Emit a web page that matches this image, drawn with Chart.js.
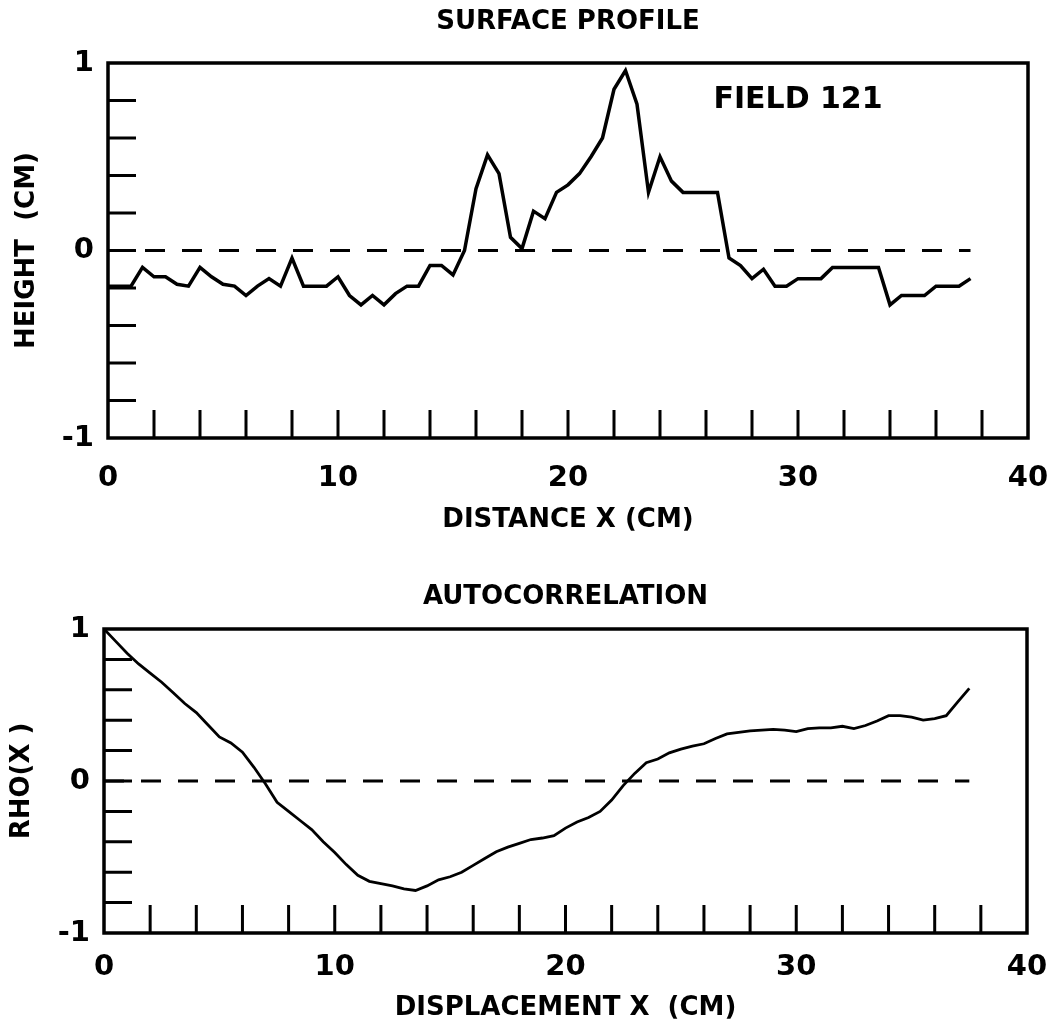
<!DOCTYPE html>
<html>
<head>
<meta charset="utf-8">
<title>Surface profile</title>
<script src="https://cdn.jsdelivr.net/npm/chart.js@4.4.1/dist/chart.umd.min.js"></script>
<style>
  html, body { margin: 0; padding: 0; background: #fff; }
  canvas { display: block; }
</style>
</head>
<body>
<canvas id="profile" width="1051" height="545"></canvas>
<canvas id="autocorr" width="1051" height="484"></canvas>
<script>
// sample positions (cm) - both panels use the same 0.5 cm spacing
var distanceCm = [0, 0.5, 1, 1.5, 2, 2.5, 3, 3.5, 4, 4.5, 5, 5.5, 6, 6.5, 7, 7.5, 8, 8.5, 9, 9.5,
  10, 10.5, 11, 11.5, 12, 12.5, 13, 13.5, 14, 14.5, 15, 15.5, 16, 16.5, 17, 17.5, 18, 18.5, 19, 19.5,
  20, 20.5, 21, 21.5, 22, 22.5, 23, 23.5, 24, 24.5, 25, 25.5, 26, 26.5, 27, 27.5, 28, 28.5, 29, 29.5,
  30, 30.5, 31, 31.5, 32, 32.5, 33, 33.5, 34, 34.5, 35, 35.5, 36, 36.5, 37, 37.5];

// surface height (cm), field 121
var heightCm = [-0.19, -0.19, -0.19, -0.09, -0.14, -0.14, -0.18, -0.19, -0.09, -0.14,
  -0.18, -0.19, -0.24, -0.19, -0.15, -0.19, -0.04, -0.19, -0.19, -0.19,
  -0.14, -0.24, -0.29, -0.24, -0.29, -0.23, -0.19, -0.19, -0.08, -0.08,
  -0.13, 0.00, 0.33, 0.51, 0.41, 0.07, 0.01, 0.21, 0.17, 0.31,
  0.35, 0.41, 0.50, 0.60, 0.86, 0.96, 0.78, 0.31, 0.50, 0.37,
  0.31, 0.31, 0.31, 0.31, -0.04, -0.08, -0.15, -0.10, -0.19, -0.19,
  -0.15, -0.15, -0.15, -0.09, -0.09, -0.09, -0.09, -0.09, -0.29, -0.24,
  -0.24, -0.24, -0.19, -0.19, -0.19, -0.15];

// autocorrelation rho(x)
var rho = [1.00, 0.92, 0.84, 0.77, 0.71, 0.65, 0.58, 0.51, 0.45, 0.37,
  0.29, 0.25, 0.19, 0.09, -0.02, -0.14, -0.20, -0.26, -0.32, -0.40,
  -0.47, -0.55, -0.62, -0.66, -0.675, -0.69, -0.71, -0.72, -0.69, -0.65,
  -0.63, -0.60, -0.555, -0.51, -0.465, -0.435, -0.41, -0.385, -0.375, -0.36,
  -0.31, -0.27, -0.24, -0.20, -0.125, -0.03, 0.05, 0.12, 0.145, 0.185,
  0.21, 0.23, 0.245, 0.28, 0.31, 0.32, 0.33, 0.335, 0.34, 0.335,
  0.325, 0.345, 0.35, 0.35, 0.36, 0.345, 0.365, 0.395, 0.43, 0.43,
  0.42, 0.40, 0.41, 0.43, 0.52, 0.61];

var xTickLabels = [0, 10, 20, 30, 40];
var yTickLabels = [-1, 0, 1];
var xMinorTicks = [2, 4, 6, 8, 10, 12, 14, 16, 18, 20, 22, 24, 26, 28, 30, 32, 34, 36, 38];
var yMinorTicks = [-0.8, -0.6, -0.4, -0.2, 0, 0.2, 0.4, 0.6, 0.8];

// dashed zero reference line
var zeroLineX = [0, 37.5];
var zeroLineY = [0, 0];

var FONT = '"DejaVu Sans", sans-serif';

// box around the plot + inward tick marks (+ optional note text)
var frameTicks = {
    id: 'frameTicks',
    afterDatasetsDraw: function (chart, args, opts) {
        var ctx = chart.ctx;
        var a = chart.chartArea;
        var x = chart.scales.x;
        var y = chart.scales.y;

        ctx.save();
        ctx.strokeStyle = '#000';
        ctx.lineWidth = opts.tickWidth;
        ctx.beginPath();
        xMinorTicks.forEach(function (v) {
            var px = x.getPixelForValue(v);
            ctx.moveTo(px, a.bottom);
            ctx.lineTo(px, a.bottom - opts.tickLen);
        });
        yMinorTicks.forEach(function (v) {
            var py = y.getPixelForValue(v);
            ctx.moveTo(a.left, py);
            ctx.lineTo(a.left + opts.tickLen, py);
        });
        ctx.stroke();

        ctx.lineWidth = opts.frameWidth;
        ctx.strokeRect(a.left, a.top, a.right - a.left, a.bottom - a.top);

        if (opts.note) {
            ctx.fillStyle = '#000';
            ctx.font = 'bold 30px ' + FONT;
            ctx.textAlign = 'center';
            ctx.textBaseline = 'middle';
            ctx.fillText(opts.note.text, x.getPixelForValue(opts.note.x), y.getPixelForValue(opts.note.y));
        }
        ctx.restore();
    }
};

function toPoints(xs, ys) {
    return ys.map(function (v, i) {
        return { x: xs[i], y: v };
    });
}

function panel(canvasId, p) {
    return new Chart(document.getElementById(canvasId), {
        type: 'line',
        data: {
            datasets: [{
                data: toPoints(distanceCm, p.values),
                borderColor: '#000',
                borderWidth: p.lineWidth,
                pointRadius: 0,
                tension: 0
            }, {
                data: toPoints(zeroLineX, zeroLineY),
                borderColor: '#000',
                borderWidth: 3,
                borderDash: [20, 17],
                pointRadius: 0
            }]
        },
        options: {
            responsive: false,
            animation: false,
            events: [],
            layout: {
                padding: { left: 0, right: p.padRight, top: 0, bottom: 0 }
            },
            plugins: {
                legend: { display: false },
                tooltip: { enabled: false },
                title: {
                    display: true,
                    fullSize: false,
                    text: p.title,
                    color: '#000',
                    font: { family: FONT, size: 26, weight: 'bold', lineHeight: 1.2 },
                    padding: { top: p.titlePadTop, bottom: p.titlePadBottom }
                },
                frameTicks: {
                    tickLen: 28,
                    tickWidth: 3,
                    frameWidth: 3.5,
                    note: p.note
                }
            },
            scales: {
                x: {
                    type: 'linear',
                    min: 0,
                    max: 40,
                    afterBuildTicks: function (s) {
                        s.ticks = xTickLabels.map(function (v) { return { value: v }; });
                    },
                    afterFit: function (s) {
                        s.height = p.xAxisHeight;
                        s.paddingLeft = 0;
                        s.paddingRight = 0;
                    },
                    grid: { display: false, drawTicks: false },
                    border: { display: false },
                    ticks: {
                        color: '#000',
                        font: { family: FONT, size: 29, weight: 'bold', lineHeight: 1.2 },
                        padding: p.xTickPad,
                        maxRotation: 0,
                        autoSkip: false
                    },
                    title: {
                        display: true,
                        text: p.xTitle,
                        color: '#000',
                        font: { family: FONT, size: 26, weight: 'bold', lineHeight: 1.2 },
                        padding: { top: 0, bottom: p.xTitlePadBottom }
                    }
                },
                y: {
                    type: 'linear',
                    min: -1,
                    max: 1,
                    afterBuildTicks: function (s) {
                        s.ticks = yTickLabels.map(function (v) { return { value: v }; });
                    },
                    afterFit: function (s) {
                        s.width = p.yAxisWidth;
                        s.paddingTop = 0;
                        s.paddingBottom = 0;
                    },
                    grid: { display: false, drawTicks: false },
                    border: { display: false },
                    ticks: {
                        color: '#000',
                        font: { family: FONT, size: 29, weight: 'bold', lineHeight: 1.2 },
                        padding: 14
                    },
                    title: {
                        display: true,
                        text: p.yTitle,
                        color: '#000',
                        font: { family: FONT, size: 26, weight: 'bold', lineHeight: 1.2 },
                        padding: { top: p.yTitlePadTop, bottom: 0 }
                    }
                }
            }
        },
        plugins: [frameTicks]
    });
}

panel('profile', {
    values: heightCm,
    lineWidth: 3.5,
    title: 'SURFACE PROFILE',
    xTitle: 'DISTANCE X (CM)',
    yTitle: 'HEIGHT  (CM)',
    note: { text: 'FIELD 121', x: 30, y: 0.8 },
    padRight: 23,
    titlePadTop: 6.4,
    titlePadBottom: 25.4,
    xAxisHeight: 107,
    xTickPad: 22.6,
    xTitlePadBottom: 9.4,
    yAxisWidth: 108,
    yTitlePadTop: 11.4
});

panel('autocorr', {
    values: rho,
    lineWidth: 2.8,
    title: 'AUTOCORRELATION',
    xTitle: 'DISPLACEMENT X  (CM)',
    yTitle: 'RHO(X )',
    note: null,
    padRight: 24,
    titlePadTop: 36.4,
    titlePadBottom: 16.4,
    xAxisHeight: 96,
    xTickPad: 16.6,
    xTitlePadBottom: 5.4,
    yAxisWidth: 104,
    yTitlePadTop: 6.4
});
</script>
</body>
</html>
